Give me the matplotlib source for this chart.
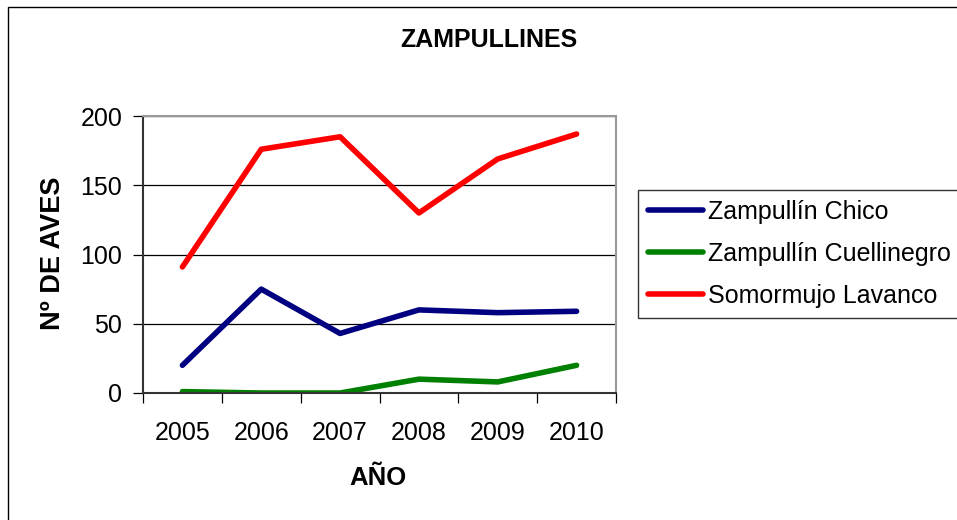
import matplotlib.pyplot as plt
from matplotlib.patches import Rectangle

plt.rcParams['font.family'] = ['Liberation Sans', 'DejaVu Sans']

years = ['2005', '2006', '2007', '2008', '2009', '2010']
chico = [20, 75, 43, 60, 58, 59]
cuellinegro = [1, 0, 0, 10, 8, 20]
lavanco = [91, 176, 185, 130, 169, 187]

series_names = ['Zampullín Chico', 'Zampullín Cuellinegro', 'Somormujo Lavanco']
series_colors = ['#000080', '#008000', '#FF0000']
yticks = [0, 50, 100, 150, 200]

W, H = 957, 520
fig = plt.figure(figsize=(W / 100, H / 100), dpi=100)
ax = fig.add_axes([143 / W, 1 - 393 / H, (616 - 143) / W, (393 - 116) / H])

x = list(range(len(years)))
for vals, name, col in zip([chico, cuellinegro, lavanco], series_names, series_colors):
    ax.plot(x, vals, color=col, lw=4, label=name, solid_capstyle='round', solid_joinstyle='round')

ax.set_xlim(-0.5, len(years) - 0.5)
ax.set_ylim(0, 200)
ax.set_yticks(yticks)
ax.set_yticklabels([str(v) for v in yticks])
ax.yaxis.grid(True, color='black', lw=0.9)
ax.set_axisbelow(True)

# ticks between categories, labels in the middle
ax.set_xticks([i - 0.5 for i in range(len(years) + 1)])
ax.set_xticklabels([])
ax.set_xticks(x, minor=True)
ax.set_xticklabels(years, minor=True)
ax.tick_params(axis='x', which='major', length=7, width=0.9, direction='out')
ax.tick_params(axis='x', which='minor', length=0, pad=20, labelsize=18)
ax.tick_params(axis='y', length=7, width=0.9, pad=8, labelsize=18)

for s in ['top', 'right']:
    ax.spines[s].set_color('#999999')
    ax.spines[s].set_linewidth(1.5)
for s in ['left', 'bottom']:
    ax.spines[s].set_color('#333333')
    ax.spines[s].set_linewidth(1.5)

fig.text(489 / W, 1 - 40 / H, 'ZAMPULLINES', ha='center', va='center', fontsize=18, fontweight='bold')
fig.text(378 / W, 1 - 478 / H, 'AÑO', ha='center', va='center', fontsize=18.5, fontweight='bold')
fig.text(53 / W, 1 - 253 / H, 'Nº DE AVES', ha='center', va='center', fontsize=19.5,
         fontweight='bold', rotation=90)

leg = fig.legend(loc='upper left', bbox_to_anchor=(638 / W, 1 - 190 / H), fontsize=18,
                 frameon=True, fancybox=False, edgecolor='black', handlelength=2.2,
                 handletextpad=0.2, labelspacing=0.72, borderpad=0.4, borderaxespad=0)
leg.get_frame().set_linewidth(1.0)

fig.patches.append(Rectangle((8 / W, -0.1), 1.2, 1 - 7 / H + 0.1, transform=fig.transFigure,
                             fill=False, edgecolor='black', lw=1.0))

fig.savefig('out.png', dpi=100)
